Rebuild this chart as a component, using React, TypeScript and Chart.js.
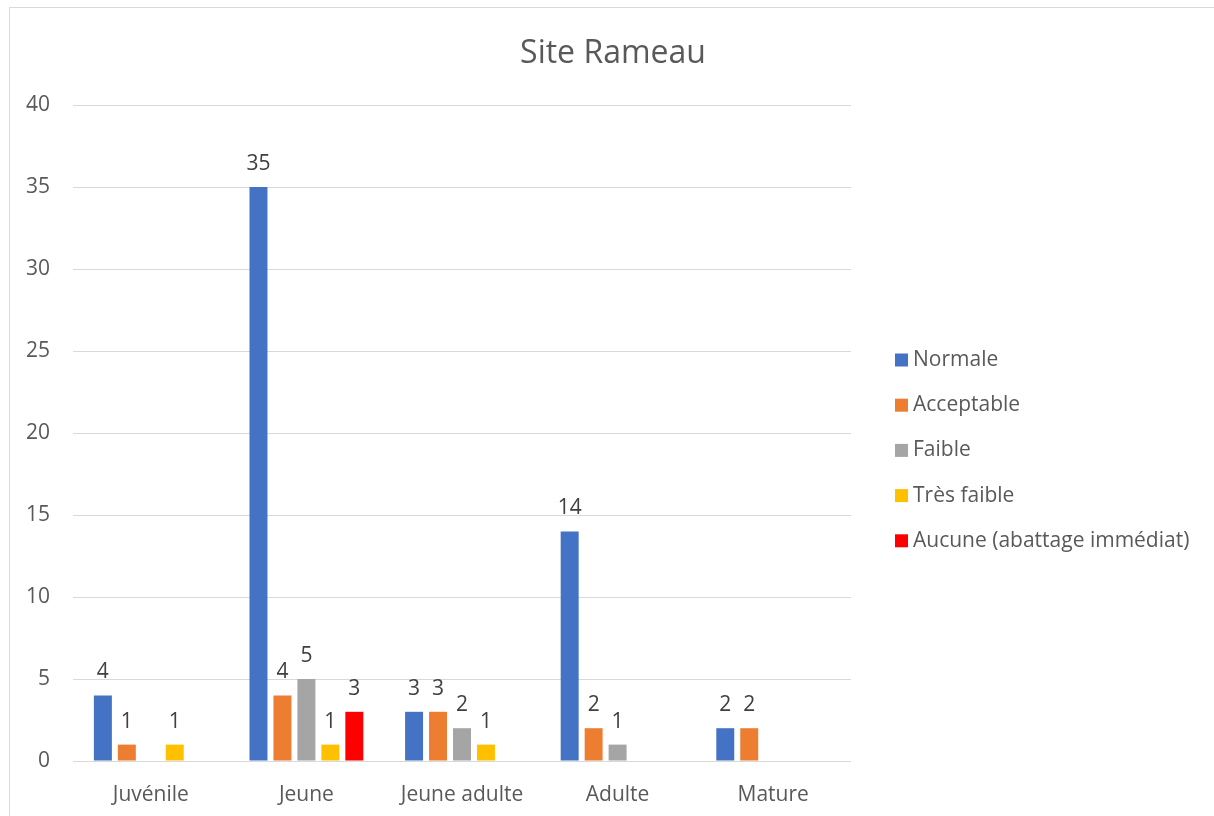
import React, { useEffect, useRef } from "react";
import { Chart, registerables } from "chart.js";

Chart.register(...registerables);

const chartTitle = "Site Rameau";
const categories = ["Juvénile", "Jeune", "Jeune adulte", "Adulte", "Mature"];
const seriesNames = ["Normale", "Acceptable", "Faible", "Très faible", "Aucune (abattage immédiat)"];
const normale = [4, 35, 3, 14, 2];
const acceptable = [1, 4, 3, 2, 2];
const faible = [null, 5, 2, 1, null];
const tresFaible = [1, 1, 1, null, null];
const aucune = [null, 3, null, null, null];
const seriesColors = ["#4472C4", "#ED7D31", "#A5A5A5", "#FFC000", "#FF0000"];
const yTicks = [0, 5, 10, 15, 20, 25, 30, 35, 40];

const FONT = "'Open Sans', 'Noto Sans', sans-serif";
const TEXT = "#595959";
const W = 1204;
const H = 808;

const valueLabels = {
  id: "valueLabels",
  afterDatasetsDraw(chart: any) {
    const ctx = chart.ctx;
    ctx.save();
    ctx.font = `21px ${FONT}`;
    ctx.fillStyle = "#404040";
    ctx.textAlign = "center";
    ctx.textBaseline = "alphabetic";
    chart.data.datasets.forEach((ds: any, i: number) => {
      const meta = chart.getDatasetMeta(i);
      meta.data.forEach((el: any, j: number) => {
        const v = ds.data[j];
        if (v === null || v === undefined) return;
        ctx.fillText(String(v), el.x, el.y - 17);
      });
    });
    ctx.restore();
  },
};

const titleAndLegend = {
  id: "titleAndLegend",
  afterDraw(chart: any) {
    const ctx = chart.ctx;
    ctx.save();
    ctx.font = `32px ${FONT}`;
    ctx.fillStyle = TEXT;
    ctx.textAlign = "center";
    ctx.textBaseline = "middle";
    ctx.fillText(chartTitle, W / 2 + 1, 46);

    ctx.font = `21px ${FONT}`;
    ctx.textAlign = "left";
    const x0 = 885;
    const yStart = 352;
    const step = 45.2;
    chart.data.datasets.forEach((ds: any, i: number) => {
      const y = yStart + i * step;
      ctx.fillStyle = ds.backgroundColor;
      ctx.fillRect(x0, y - 6.5, 13, 13);
      ctx.fillStyle = TEXT;
      ctx.fillText(ds.label, x0 + 18, y);
    });
    ctx.restore();
  },
};

export default function App() {
  const ref = useRef<HTMLCanvasElement | null>(null);
  useEffect(() => {
    if (!ref.current) return;
    const values = [normale, acceptable, faible, tresFaible, aucune];
    const chart = new Chart(ref.current, {
      type: "bar",
      data: {
        labels: categories,
        datasets: seriesNames.map((name, i) => ({
          label: name,
          data: values[i] as any,
          backgroundColor: seriesColors[i],
          borderWidth: 0,
          categoryPercentage: 0.77,
          barPercentage: 0.75,
        })),
      },
      options: {
        responsive: false,
        animation: false,
        layout: { padding: { top: 97, right: 363, left: 0, bottom: 0 } },
        plugins: {
          legend: { display: false },
          tooltip: { enabled: false },
          title: { display: false },
        },
        scales: {
          x: {
            grid: { display: false, drawTicks: false },
            border: { display: false },
            ticks: {
              color: TEXT,
              font: { family: FONT, size: 21 },
              padding: 21,
              maxRotation: 0,
            },
            afterFit(scale: any) {
              scale.height = 55;
            },
          },
          y: {
            min: 0,
            max: 40,
            afterBuildTicks(scale: any) {
              scale.ticks = yTicks.map((v) => ({ value: v }));
            },
            grid: { color: "#D9D9D9", lineWidth: 1, drawTicks: false },
            border: { display: false },
            ticks: {
              color: TEXT,
              font: { family: FONT, size: 21 },
              padding: 23,
            },
            afterFit(scale: any) {
              scale.width = 63;
            },
          },
        },
      },
      plugins: [valueLabels, titleAndLegend],
    });
    return () => chart.destroy();
  }, []);
  return (
    <div
      style={{
        position: "absolute",
        left: 9,
        top: 7,
        borderTop: "1px solid #D9D9D9",
        borderLeft: "1px solid #D9D9D9",
        width: W,
        height: H,
        background: "#fff",
      }}
    >
      <canvas ref={ref} width={W} height={H} style={{ display: "block" }} />
    </div>
  );
}
